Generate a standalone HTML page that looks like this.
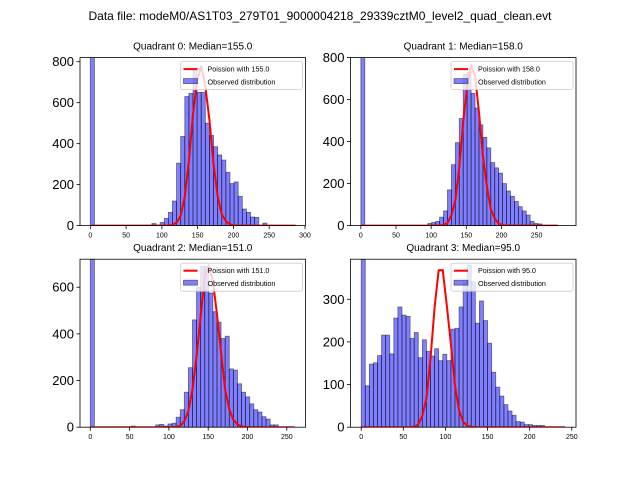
<!DOCTYPE html>
<html><head><meta charset="utf-8"><style>
body{margin:0;background:#fff;font-family:"Liberation Sans","DejaVu Sans",sans-serif}
svg{display:block}
</style></head><body>
<svg id="fig" width="640" height="480" xmlns="http://www.w3.org/2000/svg">
<rect width="640" height="480" fill="#fff"/>
<text x="320" y="20" text-anchor="middle" font-size="12">Data file: modeM0/AS1T03_279T01_9000004218_29339cztM0_level2_quad_clean.evt</text>
</svg>
<script>
// ---- data ----
const medians = [155.0, 158.0, 151.0, 95.0];
const binWidths = [5.74, 5.6, 5.2, 4.84];
const curvePeaks = [780, 760, 690, 380];
const yMaxes = [820, 800, 720, 394];
const xLims = [[-14.4, 300.7], [-14.7, 306], [-13.1, 273.8], [-12.7, 255]];
const xTicks = [[0,50,100,150,200,250,300],[0,50,100,150,200,250],[0,50,100,150,200,250],[0,50,100,150,200,250]];
const yTicks = [[0,200,400,600,800],[0,200,400,600,800],[0,200,400,600],[0,100,200,300]];
const counts0 = [2000,0,0,0,0,0,0,0,0,0,0,0,0,0,0,10,3,15,35,65,120,305,435,630,645,760,650,650,500,440,385,345,320,260,205,213,143,81,65,42,40,0,12,0,0,0,0,0,0,0];
const counts1 = [2000,0,0,0,0,0,0,0,0,0,0,0,0,0,0,0,0,10,15,20,40,70,170,290,395,510,720,730,630,560,480,420,370,300,275,250,200,165,140,115,90,70,50,20,10,8,0,0,0,0];
const counts2 = [2000,0,0,0,0,0,0,0,0,0,5,0,0,0,0,0,10,12,5,14,17,43,75,150,255,460,600,690,690,575,495,450,380,390,250,245,186,150,130,100,75,65,45,35,10,10,0,0,0,0];
const counts3 = [2000,97,148,151,168,216,216,172,256,282,263,260,208,222,163,205,178,167,184,156,171,156,230,232,282,341,380,341,244,296,250,197,129,94,73,53,38,28,13,12,6,6,4,4,4,0,0,0,0,0];
const allCounts = [counts0, counts1, counts2, counts3];

// ---- layout ----
const axBoxes = [[80,57.6,225.5,168],[350.5,57.6,225.5,168],[80,259.2,225.5,168],[350.5,259.2,225.5,168]];
const NS='http://www.w3.org/2000/svg';
const fig=document.getElementById('fig');
function mk(tag,attrs,parent){const e=document.createElementNS(NS,tag);for(const k in attrs)e.setAttribute(k,attrs[k]);(parent||fig).appendChild(e);return e;}
function lgamma(x){const c=[76.18009172947146,-86.50532032941677,24.01409824083091,-1.231739572450155,0.1208650973866179e-2,-0.5395239384953e-5];let y=x,t=x+5.5;t-=(x+0.5)*Math.log(t);let s=1.000000000190015;for(let j=0;j<6;j++)s+=c[j]/++y;return -t+Math.log(2.5066282746310005*s/x);}

for(let q=0;q<4;q++){
  const [L,T,W,H]=axBoxes[q];
  const [x0,x1]=xLims[q];
  const X=v=>L+(v-x0)/(x1-x0)*W;
  const Y=v=>T+H-v/yMaxes[q]*H;
  const g=mk('g',{});
  
  
  const clipId='clip'+q;
  const cp=mk('clipPath',{id:clipId},g);mk('rect',{x:L,y:T,width:W,height:H},cp);
  const plot=mk('g',{'clip-path':'url(#'+clipId+')'},g);
  const bw=binWidths[q], cnt=allCounts[q];
  cnt.forEach((c,i)=>{
    if(c<=0)return;
    const r=mk('rect',{x:X(i*bw),y:Y(c),width:X((i+1)*bw)-X(i*bw),height:Y(0)-Y(c),fill:'rgba(0,0,255,0.5)',stroke:'rgba(0,0,0,0.5)','stroke-width':0.8},plot);
    
    
  });
  // poisson curve
  const lam=medians[q];
  const lpk=-lam+Math.floor(lam)*Math.log(lam)-lgamma(Math.floor(lam)+1);
  let pts=[];
  for(let i=0;i<=cnt.length;i++){const k=Math.round(i*bw);const lp=-lam+k*Math.log(lam)-lgamma(k+1);pts.push(X(i*bw).toFixed(2)+','+Y(curvePeaks[q]*Math.exp(lp-lpk)).toFixed(2));}
  const pl=mk('polyline',{points:pts.join(' '),fill:'none',stroke:'#ff0000','stroke-width':2},plot);
  
  
  mk('rect',{x:L,y:T,width:W,height:H,fill:'none',stroke:'#000','stroke-width':0.8},g);
  xTicks[q].forEach(t=>{const x=X(t);mk('line',{x1:x,x2:x,y1:T+H,y2:T+H+3.5,stroke:'#000','stroke-width':0.8},g);
    const tx=mk('text',{x:x,y:T+H+12,'text-anchor':'middle','font-size':7},g);tx.textContent=t;
    
    });
  yTicks[q].forEach(t=>{const y=Y(t);mk('line',{x1:L,x2:L-3.5,y1:y,y2:y,stroke:'#000','stroke-width':0.8},g);
    const tx=mk('text',{x:L-6,y:y+4.5,'text-anchor':'end','font-size':13},g);tx.textContent=t;
    
    });
  const ti=mk('text',{x:L+W/2,y:T-8,'text-anchor':'middle','font-size':10},g);
  ti.textContent='Quadrant '+q+': Median='+medians[q].toFixed(1);
  
  
  // legend
  const lg=mk('g',{},g);
  
  
  const lx=L+W-125, ly=T+4;
  mk('rect',{x:lx,y:ly,width:122,height:28,rx:2,fill:'rgba(255,255,255,0.8)',stroke:'#ccc','stroke-width':0.8},lg);
  mk('line',{x1:lx+3,x2:lx+17,y1:ly+7.5,y2:ly+7.5,stroke:'#f00','stroke-width':2},lg);
  mk('rect',{x:lx+3,y:ly+17,width:14,height:5,fill:'rgba(0,0,255,0.5)',stroke:'rgba(0,0,0,0.5)','stroke-width':0.8},lg);
  const t1=mk('text',{x:lx+27,y:ly+10,'font-size':7.2},lg);t1.textContent='Poission with '+medians[q].toFixed(1);
  
  
  const t2=mk('text',{x:lx+27,y:ly+23,'font-size':7.2},lg);t2.textContent='Observed distribution';
  
  
}
</script>
</body></html>
